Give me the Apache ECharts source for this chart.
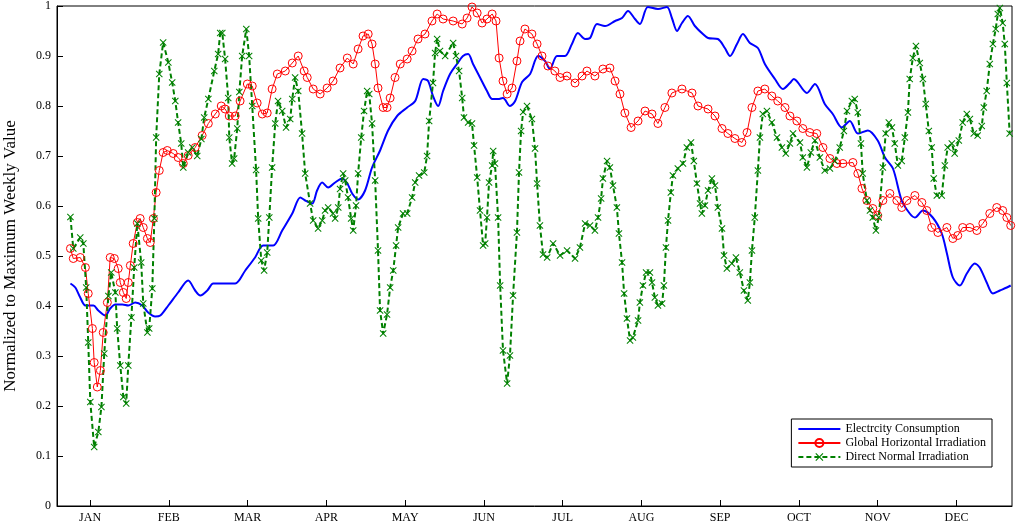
<!DOCTYPE html>
<html><head><meta charset="utf-8">
<script src="https://cdn.jsdelivr.net/npm/echarts@6/dist/echarts.min.js"></script>
<style>html,body{margin:0;padding:0;background:#fff}#c{width:1016px;height:523px}</style>
</head><body><div id="c"></div>
<script>
var monthNames=['JAN','FEB','MAR','APR','MAY','JUN','JUL','AUG','SEP','OCT','NOV','DEC'];
var monthTicks=[15,45.5,76,106.5,137,167.5,198,228.5,259,289.5,320,350.5];
var yTicks=[0,0.1,0.2,0.3,0.4,0.5,0.6,0.7,0.8,0.9,1];
var electricity=[[7.4,.445],[9.3,.437],[11.2,.417],[13.2,.401],[16.3,.401],[18.2,.391],[20.9,.381],[22.8,.395],[24.8,.403],[27.5,.403],[29.8,.401],[32.5,.407],[35.2,.401],[37.5,.387],[40.2,.379],[42.2,.381],[45.3,.401],[49.1,.427],[53.0,.451],[55.7,.431],[57.7,.421],[60.4,.431],[62.7,.445],[66.2,.445],[71.2,.445],[75.1,.471],[78.9,.497],[82.0,.521],[85.9,.521],[89.4,.551],[93.3,.585],[96.4,.617],[98.3,.611],[101.0,.605],[102.9,.631],[104.9,.647],[107.2,.637],[109.9,.647],[112.6,.655],[114.6,.645],[116.5,.625],[118.8,.613],[121.5,.631],[124.2,.677],[127.3,.711],[130.4,.751],[133.9,.78],[137.8,.797],[140.9,.81],[144.0,.854],[145.9,.85],[147.8,.82],[149.8,.80],[151.7,.83],[154.4,.864],[157.1,.884],[159.4,.90],[161.4,.904],[163.3,.884],[166.0,.857],[168.7,.83],[170.7,.814],[173.0,.814],[174.9,.816],[177.6,.80],[179.6,.81],[182.3,.848],[185.4,.864],[188.5,.90],[191.2,.89],[193.1,.874],[195.8,.90],[198.9,.90],[201.6,.924],[203.9,.946],[206.7,.934],[208.6,.936],[211.3,.964],[214.4,.96],[218.3,.97],[221.0,.976],[223.3,.99],[226.0,.974],[227.9,.964],[231.0,.998],[234.9,.994],[238.4,.998],[240.3,.976],[242.3,.95],[244.2,.966],[246.5,.98],[249.2,.96],[252.3,.944],[254.3,.936],[258.1,.934],[260.8,.916],[262.8,.90],[265.5,.924],[267.8,.944],[270.5,.926],[273.6,.916],[276.3,.884],[280.2,.854],[283.3,.834],[286.0,.846],[287.5,.854],[292.6,.826],[295.7,.844],[299.5,.804],[302.6,.784],[306.1,.757],[309.2,.77],[312.3,.745],[316.2,.751],[320.0,.731],[322.8,.697],[325.9,.675],[329.3,.611],[332.4,.585],[334.4,.577],[337.5,.591],[341.3,.577],[344.8,.545],[346.8,.505],[349.1,.457],[351.8,.441],[354.5,.465],[357.6,.485],[359.5,.477],[362.2,.447],[364.6,.425],[367.3,.431],[370.0,.437],[371.5,.441]];
var ghi=[[7.4,.515],[8.5,.495],[11.2,.497],[13.2,.477],[14.3,.425],[15.9,.355],[16.6,.287],[17.8,.238],[19.0,.271],[20.1,.347],[21.7,.407],[22.8,.497],[24.4,.495],[25.9,.475],[26.7,.447],[27.9,.427],[29.0,.415],[29.8,.447],[30.6,.481],[31.7,.525],[33.3,.567],[34.4,.575],[35.6,.557],[37.2,.535],[38.3,.527],[39.5,.575],[40.6,.627],[41.8,.671],[43.3,.707],[44.9,.711],[47.2,.705],[49.1,.697],[51.1,.685],[53.0,.701],[55.7,.717],[58.4,.741],[60.8,.765],[63.5,.784],[65.8,.80],[67.3,.794],[68.9,.78],[71.2,.78],[73.1,.81],[75.9,.844],[77.8,.84],[79.7,.806],[81.7,.784],[83.6,.786],[85.5,.834],[87.5,.864],[90.6,.87],[93.3,.886],[95.6,.90],[97.9,.87],[99.1,.857],[101.4,.834],[104.1,.824],[106.8,.836],[109.1,.85],[111.8,.876],[114.6,.896],[116.9,.884],[118.8,.914],[120.7,.94],[122.7,.944],[124.2,.924],[125.4,.884],[126.5,.836],[128.5,.797],[130.0,.797],[131.2,.816],[133.1,.857],[135.1,.884],[137.8,.894],[139.7,.91],[142.0,.934],[144.7,.944],[147.4,.97],[149.4,.984],[151.7,.974],[155.6,.97],[159.1,.964],[161.0,.976],[162.9,.998],[164.9,.986],[166.8,.966],[168.7,.974],[170.7,.984],[172.2,.97],[173.4,.896],[174.9,.85],[176.5,.824],[178.4,.836],[180.3,.89],[181.5,.93],[183.4,.954],[186.1,.944],[188.1,.924],[190.0,.90],[192.3,.88],[195.0,.87],[197.0,.857],[199.7,.86],[202.8,.846],[205.5,.86],[207.4,.87],[210.5,.86],[213.6,.874],[216.3,.876],[218.3,.85],[220.2,.824],[222.1,.786],[224.5,.757],[227.2,.77],[229.9,.79],[232.6,.784],[234.9,.765],[237.6,.797],[240.3,.826],[244.2,.834],[248.1,.826],[250.4,.80],[254.3,.794],[257.0,.78],[259.7,.755],[262.0,.745],[264.7,.735],[267.4,.727],[269.4,.747],[271.3,.797],[273.6,.83],[276.3,.834],[279.0,.82],[281.3,.81],[284.1,.797],[286.0,.78],[288.7,.77],[291.0,.755],[293.7,.747],[296.4,.745],[298.8,.717],[301.5,.695],[304.2,.685],[306.5,.685],[310.4,.687],[312.3,.665],[313.9,.635],[315.8,.611],[318.1,.595],[320.0,.581],[322.0,.611],[324.7,.625],[327.4,.611],[329.3,.597],[331.3,.611],[334.4,.621],[337.1,.607],[339.0,.591],[340.9,.557],[343.3,.547],[346.8,.557],[349.1,.535],[351.0,.541],[352.9,.557],[355.7,.557],[358.4,.551],[360.7,.565],[363.4,.585],[366.1,.597],[368.4,.591],[370.0,.577],[371.5,.561]];
var dni=[[7.4,.578],[8.5,.515],[11.2,.537],[12.4,.525],[13.5,.437],[14.3,.327],[15.1,.208],[16.6,.118],[18.2,.148],[19.4,.198],[20.5,.305],[22.1,.42],[23.2,.467],[24.8,.427],[25.5,.355],[26.7,.281],[27.9,.218],[29.0,.205],[29.8,.281],[31.0,.377],[32.1,.477],[33.3,.565],[34.8,.487],[35.6,.405],[37.2,.347],[37.9,.355],[39.1,.435],[39.9,.575],[40.6,.737],[41.8,.864],[43.3,.927],[45.3,.887],[46.8,.847],[48.0,.81],[49.1,.767],[50.3,.725],[51.1,.677],[53.0,.707],[54.6,.717],[56.5,.70],[58.1,.734],[59.2,.777],[60.8,.814],[63.1,.87],[64.6,.904],[65.4,.946],[66.2,.946],[67.3,.894],[68.5,.816],[68.9,.737],[70.0,.685],[70.8,.695],[72.0,.755],[72.8,.828],[73.9,.90],[75.5,.954],[76.6,.90],[77.8,.80],[79.3,.672],[80.1,.575],[81.3,.491],[82.4,.471],[83.6,.507],[84.4,.577],[85.5,.677],[86.7,.765],[87.8,.81],[89.4,.79],[90.9,.757],[92.5,.774],[93.3,.814],[94.4,.857],[95.6,.83],[97.1,.745],[98.3,.665],[100.2,.605],[101.4,.571],[103.3,.555],[104.9,.571],[106.0,.591],[107.2,.597],[109.1,.585],[109.9,.575],[111.1,.597],[111.8,.634],[113.0,.665],[113.8,.651],[114.9,.617],[116.1,.575],[116.9,.551],[118.0,.601],[118.8,.665],[120.0,.737],[121.1,.79],[122.3,.83],[123.1,.824],[124.2,.765],[125.4,.651],[126.5,.511],[127.3,.391],[128.5,.345],[130.0,.383],[131.2,.437],[132.4,.471],[133.5,.521],[134.3,.557],[136.2,.585],[137.8,.585],[139.7,.617],[140.9,.647],[142.4,.661],[144.4,.667],[145.5,.70],[146.3,.77],[147.8,.846],[148.6,.906],[149.4,.934],[150.5,.91],[152.5,.90],[155.6,.926],[156.7,.90],[157.9,.87],[159.1,.816],[159.8,.777],[161.4,.767],[162.9,.765],[163.7,.721],[164.9,.657],[166.0,.591],[167.2,.521],[168.0,.525],[168.7,.577],[169.5,.647],[170.7,.681],[171.1,.71],[171.8,.685],[173.0,.577],[173.8,.441],[174.9,.311],[176.5,.245],[177.6,.301],[178.8,.421],[180.3,.547],[181.1,.667],[181.9,.75],[182.7,.788],[184.2,.80],[186.1,.774],[187.3,.715],[188.1,.645],[189.2,.561],[190.4,.503],[192.0,.497],[194.3,.525],[197.0,.501],[199.7,.511],[202.8,.495],[204.7,.517],[206.7,.565],[208.6,.561],[210.5,.551],[211.7,.577],[212.9,.615],[213.6,.655],[215.2,.69],[216.3,.677],[217.5,.641],[219.0,.597],[219.8,.545],[221.0,.487],[221.8,.425],[222.9,.375],[224.1,.331],[225.2,.337],[227.2,.371],[227.9,.407],[229.1,.441],[230.3,.467],[231.8,.467],[232.6,.447],[233.7,.417],[234.9,.401],[236.5,.405],[237.2,.441],[238.0,.517],[238.8,.571],[239.9,.627],[240.7,.661],[242.6,.675],[244.6,.685],[246.1,.717],[247.7,.727],[248.8,.69],[250.0,.645],[251.2,.605],[251.9,.585],[253.1,.601],[254.3,.631],[255.8,.655],[257.0,.641],[258.1,.597],[259.7,.555],[260.5,.501],[261.6,.475],[263.5,.485],[265.1,.497],[266.6,.467],[268.2,.431],[269.7,.411],[270.5,.447],[271.3,.511],[272.4,.577],[273.6,.671],[274.4,.737],[275.5,.784],[277.1,.79],[279.0,.767],[281.0,.737],[282.9,.717],[284.4,.705],[286.0,.725],[287.2,.745],[289.9,.727],[291.0,.697],[292.6,.677],[294.1,.707],[295.7,.731],[297.6,.697],[299.5,.671],[301.5,.675],[303.4,.69],[305.3,.717],[306.9,.75],[308.1,.79],[310.0,.81],[311.1,.814],[312.3,.787],[313.5,.725],[314.2,.665],[315.8,.611],[317.0,.591],[318.1,.577],[319.3,.551],[320.4,.577],[322.0,.677],[323.1,.745],[324.3,.767],[325.5,.757],[326.6,.725],[327.8,.681],[329.3,.69],[330.5,.737],[331.7,.787],[332.4,.854],[333.6,.896],[334.8,.92],[336.3,.886],[337.5,.854],[338.6,.804],[339.8,.75],[340.9,.717],[341.7,.655],[342.9,.621],[344.8,.621],[346.0,.681],[347.1,.717],[348.7,.725],[349.8,.705],[351.4,.731],[352.9,.767],[354.5,.784],[355.7,.774],[357.2,.745],[358.7,.741],[360.3,.76],[361.1,.797],[362.2,.83],[363.4,.884],[364.6,.924],[365.7,.954],[366.5,.984],[367.3,.996],[368.4,.966],[369.2,.924],[370.0,.846],[371.1,.745]];

var xSym='path://M0,1L1,0L5,4L9,0L10,1L6,5L10,9L9,10L5,6L1,10L0,9L4,5Z';
var font='Liberation Serif';
var chart=echarts.init(document.getElementById('c'));
chart.setOption({
  animation:false,
  textStyle:{fontFamily:font},
  grid:{left:57,right:4,top:6,bottom:17,show:true,borderColor:'#000',borderWidth:1,outerBoundsMode:'none',containLabel:false},
  legend:{orient:'vertical',right:24,top:419,itemGap:2,itemWidth:42,itemHeight:10,
    backgroundColor:'#fff',borderColor:'#000',borderWidth:1,padding:[4,6,4,6],
    textStyle:{fontFamily:font,fontSize:12,color:'#000'},
    data:[{name:'Electrcity Consumption',itemStyle:{opacity:0}},'Global Horizontal Irradiation','Direct Normal Irradiation']},
  xAxis:{type:'value',min:2.2,max:372,
    axisLine:{lineStyle:{color:'#000'}},
    axisTick:{inside:true,length:6,customValues:monthTicks,lineStyle:{color:'#000'}},
    axisLabel:{customValues:monthTicks,color:'#000',fontSize:12,fontFamily:font,margin:6,
      formatter:function(v){var i=monthTicks.indexOf(v);return i>=0?monthNames[i]:'';}},
    splitLine:{show:false}},
  yAxis:{type:'value',min:0,max:1,interval:0.1,
    name:'Normalized to Maximum Weekly Value',nameLocation:'middle',nameGap:38,
    nameTextStyle:{fontFamily:font,fontSize:17,color:'#000'},
    axisLine:{show:true,lineStyle:{color:'#000'}},
    axisTick:{inside:true,length:6,customValues:yTicks,lineStyle:{color:'#000'}},
    axisLabel:{customValues:yTicks,color:'#000',fontSize:12,fontFamily:font,margin:6,formatter:function(v){return String(Math.round(v*10)/10);}},
    splitLine:{show:false}},
  series:[
    {name:'Electrcity Consumption',type:'line',data:electricity,showSymbol:false,symbol:'none',smooth:0.3,
     lineStyle:{color:'#0000ff',width:2},itemStyle:{color:'#0000ff'}},
    {name:'Global Horizontal Irradiation',type:'line',data:ghi,symbol:'circle',symbolSize:8,
     lineStyle:{color:'#ff0000',width:1},itemStyle:{color:'rgba(0,0,0,0)',borderColor:'#ff0000',borderWidth:1}},
    {name:'Direct Normal Irradiation',type:'line',data:dni,symbol:xSym,symbolSize:7,
     lineStyle:{color:'#008000',width:2,type:[5,3]},itemStyle:{color:'#008000'}}
  ]
});
</script></body></html>
